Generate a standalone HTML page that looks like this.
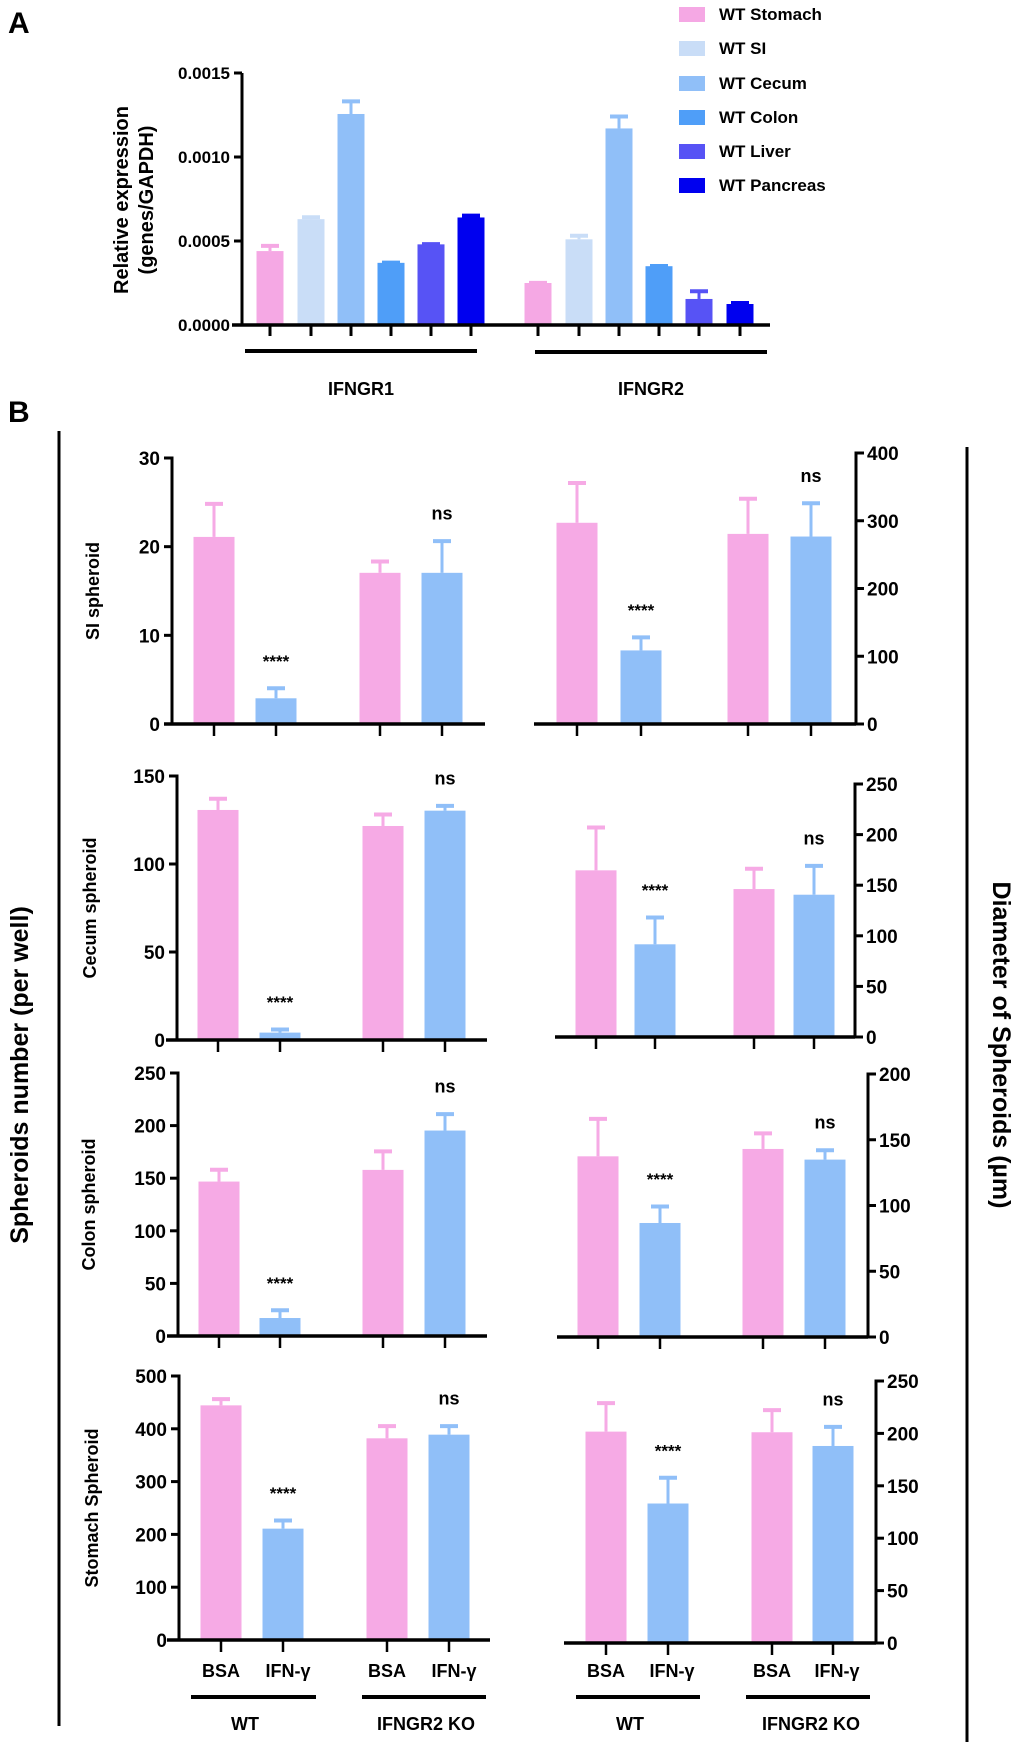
<!DOCTYPE html>
<html><head><meta charset="utf-8"><style>
html,body{margin:0;padding:0;background:#fff;}
svg{display:block;font-family:"Liberation Sans",sans-serif;}
svg text{font-weight:bold;}
</style></head><body>
<svg id="fig" width="1020" height="1749" viewBox="0 0 1020 1749" xmlns="http://www.w3.org/2000/svg">
<text x="8" y="33" font-size="30" font-weight="bold">A</text>
<text x="8" y="422" font-size="30" font-weight="bold">B</text>
<g font-size="20" font-weight="bold" text-anchor="middle">
<text transform="translate(128,200) rotate(-90)">Relative expression</text>
<text transform="translate(153,200) rotate(-90)">(genes/GAPDH)</text>
</g>
<line x1="59" y1="431" x2="59" y2="1726" stroke="#000" stroke-width="3"/>
<line x1="967" y1="447" x2="967" y2="1742" stroke="#000" stroke-width="3"/>
<text transform="translate(28,1075) rotate(-90)" font-size="25" font-weight="bold" text-anchor="middle">Spheroids number (per well)</text>
<text transform="translate(993,1045) rotate(90)" font-size="25" font-weight="bold" text-anchor="middle">Diameter of Spheroids (µm)</text>
</svg>
<script>
// ---- Panel A data ----
const aCategories = ['WT Stomach','WT SI','WT Cecum','WT Colon','WT Liver','WT Pancreas'];
const aGenes = ['IFNGR1','IFNGR2'];
const aIFNGR1Mean = [0.00044,0.00063,0.001256,0.00037,0.00048,0.00064];
const aIFNGR1Upper = [0.00048,0.00065,0.00134,0.00038,0.00049,0.00066];
const aIFNGR2Mean = [0.00025,0.00051,0.00117,0.00035,0.000155,0.000125];
const aIFNGR2Upper = [0.00026,0.00054,0.00125,0.00036,0.00021,0.00014];
const aTicks = ['0.0000','0.0005','0.0010','0.0015'];
// ---- Panel B data ----
const bConditions = ['BSA','IFN-γ','BSA','IFN-γ'];
const bGroups = ['WT','IFNGR2 KO'];
const rowNames = ['SI spheroid','Cecum spheroid','Colon spheroid','Stomach Spheroid'];
const siNumMean = [21.1,2.9,17.05,17.05];
const siNumUpper = [25.0,4.2,18.5,20.8];
const siDiaMean = [297,108.6,280.6,276.7];
const siDiaUpper = [358,130,334.6,328];
const cecumNumMean = [130.7,4.2,121.6,130.3];
const cecumNumUpper = [137.9,6.8,129,133.9];
const cecumDiaMean = [164.7,91.6,146.2,140.6];
const cecumDiaUpper = [208.5,119.6,167.7,170.6];
const colonNumMean = [146.8,17.1,157.9,195.3];
const colonNumUpper = [159.5,25.9,176.9,212.3];
const colonDiaMean = [137.4,86.7,143,134.9];
const colonDiaUpper = [167,100.4,156,143.2];
const stomachNumMean = [444.4,210.9,382,388.9];
const stomachNumUpper = [459,229.2,407.8,407.8];
const stomachDiaMean = [201.7,133.1,201.1,188];
const stomachDiaUpper = [230.3,159.1,223.6,207.7];
const siNumTicks = [0,10,20,30];
const siDiaTicks = [0,100,200,300,400];
const cecumNumTicks = [0,50,100,150];
const cecumDiaTicks = [0,50,100,150,200,250];
const colonNumTicks = [0,50,100,150,200,250];
const colonDiaTicks = [0,50,100,150,200];
const stomachNumTicks = [0,100,200,300,400,500];
const stomachDiaTicks = [0,50,100,150,200,250];
const sigLabels = ['','****','','ns'];

const NS='http://www.w3.org/2000/svg';
const svg=document.getElementById('fig');
function el(tag,attrs,parent,text){const e=document.createElementNS(NS,tag);for(const k in attrs)e.setAttribute(k,attrs[k]);if(text!==undefined)e.textContent=text;(parent||svg).appendChild(e);return e;}
const aColors=['#f5a8e4','#c9ddf7','#90bff8','#4f9ef8','#5753f5','#0000ef'];
const pink='#f6aae5', blue='#90bff8';

function barWithErr(g,xc,w,y0,yTop,yCap,color,name){
  const b=el('rect',{x:xc-w/2,y:yTop,width:w,height:y0-yTop,fill:color},g);
  
  
  const e=el('line',{x1:xc,y1:yTop,x2:xc,y2:yCap,stroke:color,'stroke-width':3},g);
  
  
  const c=el('line',{x1:xc-9,y1:yCap+1.5,x2:xc+9,y2:yCap+1.5,stroke:color,'stroke-width':4},g);
  
  
}

// ---- Panel A ----
(function(){
  const g=el('g',{});
  
  
  const axX=242,y0=325,yTop=73,maxV=0.0015;
  const yS=v=>y0-(v/maxV)*(y0-yTop);
  const centers=[[270,311,351,391,431,471],[538,579,619,659,699,740]];
  const means=[aIFNGR1Mean,aIFNGR2Mean], ups=[aIFNGR1Upper,aIFNGR2Upper];
  for(let gi=0;gi<aGenes.length;gi++){
    for(let i=0;i<aCategories.length;i++){
      const xc=centers[gi][i];
      barWithErr(g,xc,27,y0,yS(means[gi][i]),yS(ups[gi][i]),aColors[i],'bar-'+aGenes[gi].toLowerCase()+'-'+i);
      el('line',{x1:xc,y1:y0,x2:xc,y2:336,stroke:'#000','stroke-width':3},g);
    }
  }
  el('line',{x1:axX,y1:yTop,x2:axX,y2:y0+1.5,stroke:'#000','stroke-width':3},g);
  el('line',{x1:232,y1:y0,x2:770,y2:y0,stroke:'#000','stroke-width':3.5},g);
  aTicks.forEach(t=>{const y=yS(parseFloat(t));
    el('line',{x1:axX-8,y1:y,x2:axX,y2:y,stroke:'#000','stroke-width':3},g);
    const tx=el('text',{x:axX-12,y:y+6,'font-size':17,'text-anchor':'end'},g,t);
    
    
  });
  const gl=[[245,477,351,361],[535,767,352,651]];
  aGenes.forEach((n,i)=>{
    el('line',{x1:gl[i][0],y1:gl[i][2],x2:gl[i][1],y2:gl[i][2],stroke:'#000','stroke-width':4},g);
    const t=el('text',{x:gl[i][3],y:395,'font-size':18,'text-anchor':'middle'},g,n);
    
    
  });
  const lg=el('g',{},g);
  
  
  const ly=[14,48,83,117,151,185];
  aCategories.forEach((c,i)=>{
    el('rect',{x:679,y:ly[i]-7,width:26,height:15,fill:aColors[i]},lg);
    const t=el('text',{x:719,y:ly[i]+6,'font-size':17},lg,c);
    
    
  });
})();

// ---- Panel B ----
const rows=[
 {name:rowNames[0],L:{ax:172,y0:724,yT:458,ticks:siNumTicks,mean:siNumMean,up:siNumUpper,c:[214,276,380,442],x1:164,x2:485},
  R:{ax:856,y0:724,yT:453,ticks:siDiaTicks,mean:siDiaMean,up:siDiaUpper,c:[577,641,748,811],x1:534},labX:93},
 {name:rowNames[1],L:{ax:177,y0:1040,yT:776,ticks:cecumNumTicks,mean:cecumNumMean,up:cecumNumUpper,c:[218,280,383,445],x1:166,x2:487},
  R:{ax:855,y0:1037,yT:784,ticks:cecumDiaTicks,mean:cecumDiaMean,up:cecumDiaUpper,c:[596,655,754,814],x1:555},labX:90},
 {name:rowNames[2],L:{ax:178,y0:1336,yT:1073,ticks:colonNumTicks,mean:colonNumMean,up:colonNumUpper,c:[219,280,383,445],x1:167,x2:487},
  R:{ax:868,y0:1337,yT:1074,ticks:colonDiaTicks,mean:colonDiaMean,up:colonDiaUpper,c:[598,660,763,825],x1:557},labX:89},
 {name:rowNames[3],L:{ax:179,y0:1640,yT:1376,ticks:stomachNumTicks,mean:stomachNumMean,up:stomachNumUpper,c:[221,283,387,449],x1:167,x2:490},
  R:{ax:876,y0:1643,yT:1381,ticks:stomachDiaTicks,mean:stomachDiaMean,up:stomachDiaUpper,c:[606,668,772,833],x1:564},labX:92}
];
rows.forEach((r,ri)=>{
  const g=el('g',{});
  
  
  ['L','R'].forEach(side=>{
    const s=r[side];
    const maxV=s.ticks[s.ticks.length-1];
    const yS=v=>s.y0-(v/maxV)*(s.y0-s.yT);
    for(let i=0;i<4;i++){
      const xc=s.c[i];
      barWithErr(g,xc,41,s.y0,yS(s.mean[i]),yS(s.up[i]),i%2?blue:pink,'bar-'+side.toLowerCase()+'-'+ri+'-'+i);
      el('line',{x1:xc,y1:s.y0,x2:xc,y2:s.y0+12,stroke:'#000','stroke-width':2.5},g);
      if(sigLabels[i]){
        const t=el('text',{x:xc,y:yS(s.up[i])-20,'font-size':sigLabels[i]==='ns'?18:17,'text-anchor':'middle'},g,sigLabels[i]);
        
        
      }
    }
    el('line',{x1:s.ax,y1:s.yT-1.5,x2:s.ax,y2:s.y0+1.5,stroke:'#000','stroke-width':3},g);
    if(side==='L') el('line',{x1:s.x1,y1:s.y0,x2:s.x2,y2:s.y0,stroke:'#000','stroke-width':3.5},g);
    else el('line',{x1:s.x1,y1:s.y0,x2:s.ax,y2:s.y0,stroke:'#000','stroke-width':3.5},g);
    s.ticks.forEach(t=>{const y=yS(t);
      const dx=side==='L'?-8:8;
      el('line',{x1:s.ax,y1:y,x2:s.ax+dx,y2:y,stroke:'#000','stroke-width':3},g);
      const tx=el('text',{x:side==='L'?s.ax-12:s.ax+11,y:y+7,'font-size':19,'text-anchor':side==='L'?'end':'start'},g,String(t));
      
      
    });
  });
  const cy=(r.L.y0+r.L.yT)/2;
  const lab=el('text',{transform:'translate('+(r.labX+6)+','+(cy)+') rotate(-90)','font-size':18,'font-weight':'bold','text-anchor':'middle'},g,r.name);
  
  
  if(ri===3){
    [r.L,r.R].forEach((s,si)=>{
      const off=[[0,5],[0,4]][si];
      for(let i=0;i<4;i++){
        const t=el('text',{x:s.c[i]+(i%2?off[1]:0),y:1677,'font-size':18,'text-anchor':'middle'},g,bConditions[i]);
        
        
      }
    });
    const gl=[[191,316,245],[362,486,426],[576,700,630],[746,870,811]];
    gl.forEach((q,i)=>{
      el('line',{x1:q[0],y1:1697,x2:q[1],y2:1697,stroke:'#000','stroke-width':4},g);
      const t=el('text',{x:q[2],y:1730,'font-size':18,'text-anchor':'middle'},g,bGroups[i%2]);
      
      
    });
  }
});
</script>
</body></html>
